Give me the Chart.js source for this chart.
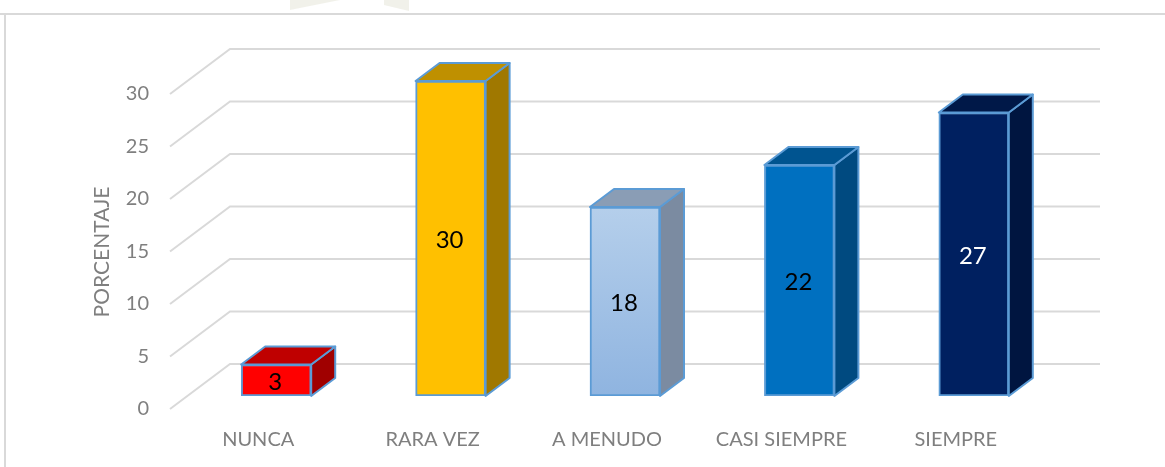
<!DOCTYPE html>
<html lang="es">
<head>
    <meta charset="UTF-8">
    <script src="https://cdn.jsdelivr.net/npm/chart.js"></script>
    <title>Porcentaje</title>
    <style>
        html, body { margin: 0; padding: 0; background: #ffffff; overflow: hidden; }
        #caja { width: 1165px; height: 467px; }
    </style>
</head>
<body>
    <div id="caja"><canvas id="Grafico1" width="1165" height="467"></canvas></div>

<script>
    var categorias = ['NUNCA', 'RARA VEZ', 'A MENUDO', 'CASI SIEMPRE', 'SIEMPRE'];
    var valores = [3, 30, 18, 22, 27];
    var ticksY = [0, 5, 10, 15, 20, 25, 30];
    var tituloY = 'PORCENTAJE';

    var coloresFrente = ['#ff0000', '#ffc000', '#a6c4e8', '#0070c0', '#002060'];
    var coloresTapa = ['#bf0000', '#bf9000', '#8a9db5', '#005490', '#001848'];
    var coloresLado = ['#a00000', '#a07800', '#7b8ba1', '#004a80', '#001540'];
    var coloresTexto = ['#000000', '#000000', '#000000', '#000000', '#ffffff'];

    var gris = '#d9d9d9';
    var borde = '#5b9bd5';
    var fuente = 'Lato, "Open Sans", sans-serif';

    // grilla en perspectiva, tapa y lado de cada barra
    var plugin3d = {
        id: 'plugin3d',
        beforeDatasetsDraw: function (chart) {
            var ctx = chart.ctx;
            var y = chart.scales.y;

            ctx.save();
            ctx.fillStyle = 'rgba(224,224,208,0.45)';
            ctx.beginPath();
            ctx.moveTo(290, 0); ctx.lineTo(290, 10); ctx.lineTo(340, 0);
            ctx.moveTo(384, 0); ctx.lineTo(384, 5); ctx.lineTo(409, 11); ctx.lineTo(409, 0);
            ctx.fill();

            ctx.strokeStyle = gris;
            ctx.lineWidth = 2;
            ctx.beginPath();
            ctx.moveTo(0, 14); ctx.lineTo(1165, 14);
            ctx.moveTo(5, 14); ctx.lineTo(5, 467);
            ctx.stroke();

            ticksY.forEach(function (t) {
                var py = y.getPixelForValue(t);
                ctx.beginPath();
                ctx.moveTo(170, py + 13);
                ctx.lineTo(230, py - 32);
                ctx.lineTo(1100, py - 32);
                ctx.stroke();
            });

            var barras = chart.getDatasetMeta(0).data;
            barras.forEach(function (b, i) {
                var izq = b.x - 35, der = b.x + 35, arriba = b.y, abajo = b.base;
                var dx = 24, dy = 18;

                ctx.strokeStyle = borde;
                ctx.lineWidth = 2;
                ctx.lineJoin = 'round';

                ctx.fillStyle = coloresLado[i];
                ctx.beginPath();
                ctx.moveTo(der, arriba);
                ctx.lineTo(der + dx, arriba - dy);
                ctx.lineTo(der + dx, abajo - dy);
                ctx.lineTo(der, abajo);
                ctx.closePath();
                ctx.fill();
                ctx.stroke();

                ctx.fillStyle = coloresTapa[i];
                ctx.beginPath();
                ctx.moveTo(izq, arriba);
                ctx.lineTo(izq + dx, arriba - dy);
                ctx.lineTo(der + dx, arriba - dy);
                ctx.lineTo(der, arriba);
                ctx.closePath();
                ctx.fill();
                ctx.stroke();
            });
            ctx.restore();
        },
        afterDatasetsDraw: function (chart) {
            var ctx = chart.ctx;
            var barras = chart.getDatasetMeta(0).data;

            ctx.save();
            ctx.font = '24px ' + fuente;
            ctx.textAlign = 'center';
            ctx.textBaseline = 'middle';
            barras.forEach(function (b, i) {
                ctx.fillStyle = coloresTexto[i];
                ctx.fillText(String(valores[i]), b.x - 1, (b.y + b.base) / 2 + 2);
            });

            ctx.translate(102, 252);
            ctx.rotate(-Math.PI / 2);
            ctx.font = '21px ' + fuente;
            ctx.fillStyle = '#7f7f7f';
            ctx.fillText(tituloY, 0, 0);
            ctx.restore();
        }
    };

    var canvas = document.getElementById('Grafico1');

    var grad = canvas.getContext('2d').createLinearGradient(0, 206, 0, 396);
    grad.addColorStop(0, '#b5cfeb');
    grad.addColorStop(1, '#8fb4e0');
    var fondos = coloresFrente.slice();
    fondos[2] = grad;

    new Chart(canvas, {
        type: 'bar',
        data: {
            labels: categorias,
            datasets: [{
                data: valores,
                backgroundColor: fondos,
                borderColor: borde,
                borderWidth: 2,
                borderSkipped: false,
                barThickness: 70
            }]
        },
        options: {
            responsive: false,
            animation: false,
            layout: { padding: { top: 81, right: 104, left: 0, bottom: 0 } },
            plugins: {
                legend: { display: false },
                tooltip: { enabled: false }
            },
            scales: {
                x: {
                    grid: { display: false },
                    border: { display: false },
                    afterFit: function (s) { s.height = 71; s.paddingLeft = 0; s.paddingRight = 0; },
                    ticks: {
                        color: '#7f7f7f',
                        font: { family: fuente, size: 20 },
                        padding: 24,
                        labelOffset: -18,
                        maxRotation: 0,
                        autoSkip: false
                    }
                },
                y: {
                    min: 0,
                    max: 30,
                    grid: { display: false },
                    border: { display: false },
                    afterFit: function (s) { s.width = 189; s.paddingTop = 0; s.paddingBottom = 0; },
                    ticks: {
                        stepSize: 5,
                        color: '#7f7f7f',
                        font: { family: fuente, size: 20 },
                        padding: 32,
                        labelOffset: 13
                    }
                }
            }
        },
        plugins: [plugin3d]
    });
</script>
</body>
</html>
